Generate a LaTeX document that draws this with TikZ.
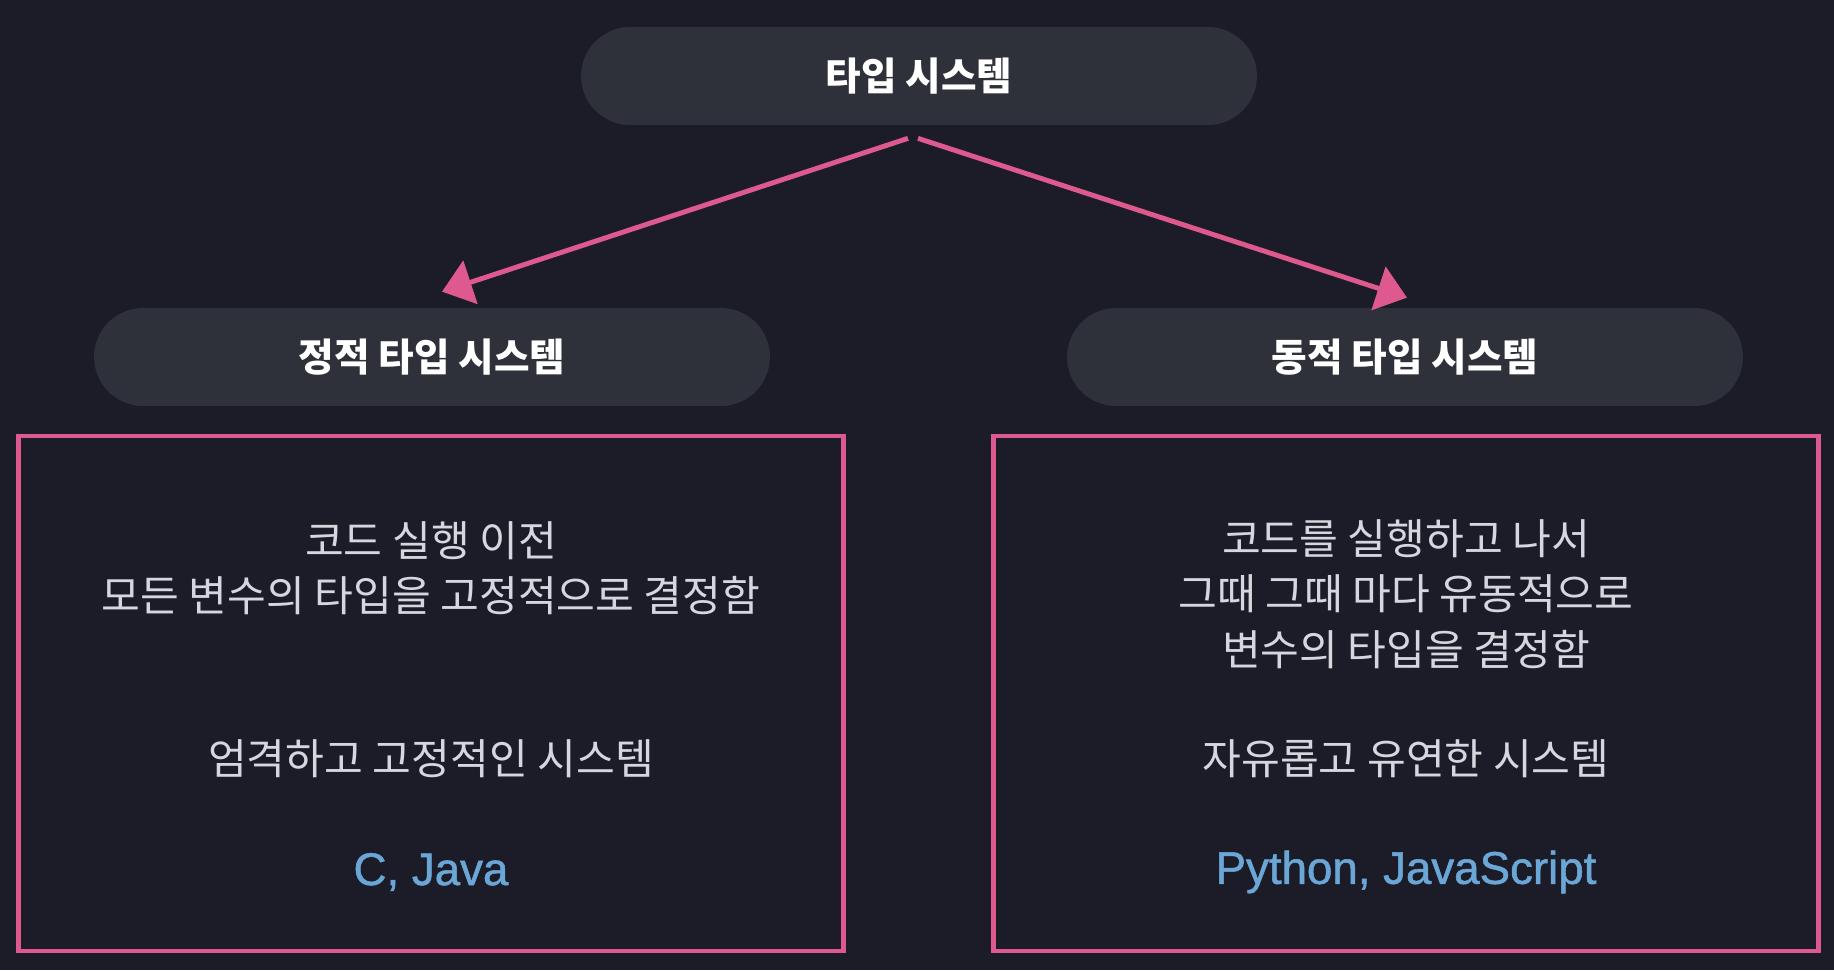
\documentclass[tikz,border=0pt]{standalone}
\usepackage{fontspec}
\setmainfont{Noto Sans CJK KR}
\newfontfamily\latinfont{Liberation Sans}[BoldFont=Liberation Sans, BoldFeatures={FakeBold=1.2}]
\usepackage{xcolor}
\usetikzlibrary{positioning,arrows.meta,calc}
\definecolor{bgdark}  {HTML}{1C1C28}
\definecolor{pillbg}  {HTML}{2E3139}
\definecolor{bodytxt} {HTML}{D6D6DE}
\definecolor{langblue}{HTML}{6AA6D6}
\definecolor{chalk}   {HTML}{DE5A8E}
\tikzset{
  pill/.style  = {rounded corners=0.98cm, fill=pillbg, text=white,
                  minimum width=13.52cm, minimum height=1.96cm, align=center,
                  font=\fontsize{22pt}{26pt}\selectfont\bfseries, inner sep=0pt},
  panel/.style = {draw=chalk, line width=2.6pt, minimum width=16.5cm,
                  minimum height=10.3cm, inner sep=0pt},
  flow/.style  = {-{Triangle[length=6mm, width=9mm]}, draw=chalk,
                  line width=2.8pt},
  body/.style  = {text=bodytxt, align=center,
                  font=\fontsize{24pt}{31.5pt}\selectfont},
  lang/.style  = {text=langblue, font=\latinfont\bfseries\fontsize{26pt}{30pt}\selectfont},
}
\begin{document}
\begin{tikzpicture}[x=0.02cm, y=-0.02cm]
  \fill[bgdark] (0,0) rectangle (1834,970);
  \useasboundingbox (0,0) rectangle (1834,970);

  \node[pill] (type) at (919,76) {타입 시스템};
  \node[pill] (static) at (432,357) {정적 타입 시스템};
  \node[pill] (dynamic) at (1405,357) {동적 타입 시스템};

  \draw[flow] ([xshift=-0.22cm, yshift=-0.26cm]type.south)
    -- ([xshift=0.2cm, yshift=0.32cm]static.north);
  \draw[flow] ([xshift=-0.02cm, yshift=-0.26cm]type.south)
    -- ([xshift=0.04cm, yshift=0.2cm]dynamic.north);

  \node[panel] (staticbox) at (431,693.5) {};
  \node[panel] (dynamicbox) at (1406,693.5) {};

  \node[body] (staticdesc) at (431,568) {코드 실행 이전\\모든 변수의 타입을 고정적으로 결정함};
  \node[body] (staticfeel) at (431,759) {엄격하고 고정적인 시스템};
  \node[lang] (staticlang) at (431,872) {C, Java};

  \node[body] (dynamicdesc) at (1406,594) {코드를 실행하고 나서\\그때 그때 마다 유동적으로\\변수의 타입을 결정함};
  \node[body] (dynamicfeel) at (1406,759) {자유롭고 유연한 시스템};
  \node[lang] (dynamiclang) at (1406,872) {Python, JavaScript};
\end{tikzpicture}
\end{document}
